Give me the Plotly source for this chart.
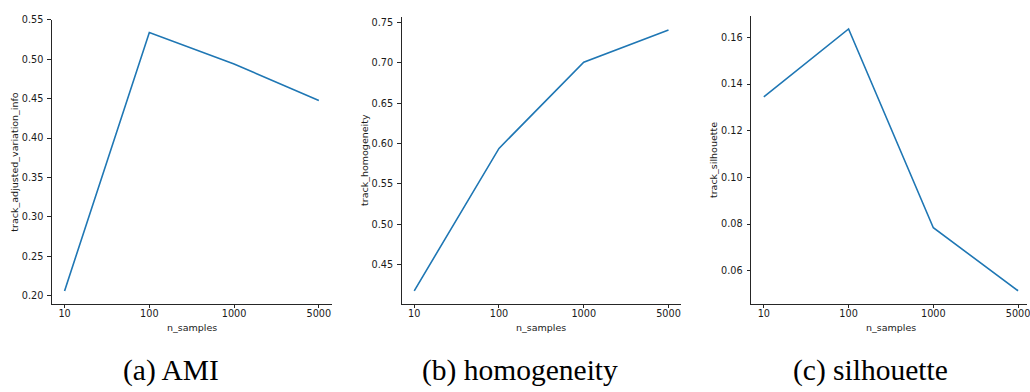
import plotly.graph_objects as go

W, H = 1030, 392

# ---- data ----
n_samples = ["10", "100", "1000", "5000"]
ami = [0.206, 0.534, 0.494, 0.4475]
homogeneity = [0.4174, 0.594, 0.701, 0.741]
silhouette = [0.1345, 0.1636, 0.0784, 0.0514]

ami_ticks = [0.20, 0.25, 0.30, 0.35, 0.40, 0.45, 0.50, 0.55]
hom_ticks = [0.45, 0.50, 0.55, 0.60, 0.65, 0.70, 0.75]
sil_ticks = [0.06, 0.08, 0.10, 0.12, 0.14, 0.16]

y_titles = ["track_adjusted_variation_info", "track_homogeneity", "track_silhouette"]
captions = ["(a) AMI", "(b) homogeneity", "(c) silhouette"]

series = [ami, homogeneity, silhouette]
tick_sets = [ami_ticks, hom_ticks, sil_ticks]

# ---- layout geometry (pixels) ----
x_left = [52.0, 402.7, 753.3]
caption_cx = [172, 522, 873]
unit_px = 85.0
x_pad = 0.15
y_bottom_px = 302.7
tops = [14.7, 12.0, 11.0]

def px_x(p):
    return p / W

def px_y(p):
    return (H - p) / H

TXT = "#1a1a1a"
AX = "#262626"
font_sans = "DejaVu Sans"

fig = go.Figure()
layout = dict(
    width=W, height=H,
    margin=dict(l=0, r=0, t=0, b=0),
    paper_bgcolor="white", plot_bgcolor="white",
    showlegend=False,
)
annotations = []

for i in range(3):
    vals = series[i]
    lo, hi = min(vals), max(vals)
    m = (hi - lo) * 0.05
    yr = [lo - m, hi + m]
    xr = [-x_pad, len(n_samples) - 1 + x_pad]
    x0 = x_left[i]
    x1 = x0 + (xr[1] - xr[0]) * unit_px
    if x1 > W:
        xr[1] = xr[0] + (W - x0) / unit_px
        x1_dom = W
    else:
        x1_dom = x1
    xa = "xaxis" if i == 0 else f"xaxis{i+1}"
    ya = "yaxis" if i == 0 else f"yaxis{i+1}"
    xref = "x" if i == 0 else f"x{i+1}"
    yref = "y" if i == 0 else f"y{i+1}"
    fig.add_trace(go.Scatter(
        x=n_samples, y=vals, mode="lines",
        line=dict(color="#1f77b4", width=1.6),
        xaxis=xref, yaxis=yref, hoverinfo="skip",
    ))
    common = dict(
        showline=True, linecolor=AX, linewidth=1,
        ticks="outside", ticklen=3.5, tickwidth=1, tickcolor=AX,
        showgrid=False, zeroline=False,
        tickfont=dict(family=font_sans, size=9.7, color=TXT),
    )
    layout[xa] = dict(
        domain=[px_x(x0), px_x(x1_dom)], anchor=yref,
        type="category", range=xr,
        ticklabelstandoff=-3,
        **common,
    )
    ticks = tick_sets[i]
    layout[ya] = dict(
        domain=[px_y(y_bottom_px), px_y(tops[i])], anchor=xref,
        range=yr, tickvals=ticks, ticktext=[f"{t:.2f}" for t in ticks],
        ticklabelstandoff=2,
        **common,
    )
    # axis titles
    full_x1 = x0 + (len(n_samples) - 1 + 2 * x_pad) * unit_px
    cx = (x0 + full_x1) / 2
    annotations.append(dict(
        text="n_samples", xref="paper", yref="paper",
        x=px_x(cx), y=px_y(326.7), xanchor="center", yanchor="middle",
        showarrow=False, font=dict(family=font_sans, size=9.5, color=TXT),
    ))
    cy = (y_bottom_px + tops[i]) / 2
    annotations.append(dict(
        text=y_titles[i], xref="paper", yref="paper",
        x=px_x(x0 - 37), y=px_y(cy), xanchor="center", yanchor="middle",
        textangle=-90, showarrow=False,
        font=dict(family=font_sans, size=9.5, color=TXT),
    ))
    # captions
    annotations.append(dict(
        text=captions[i], xref="paper", yref="paper",
        x=px_x(caption_cx[i]), y=px_y(370.5), xanchor="center", yanchor="middle",
        showarrow=False, font=dict(family="Liberation Serif", size=29.5, color="black"),
    ))

layout["annotations"] = annotations
fig.update_layout(**layout)
fig.write_html("out.html")
